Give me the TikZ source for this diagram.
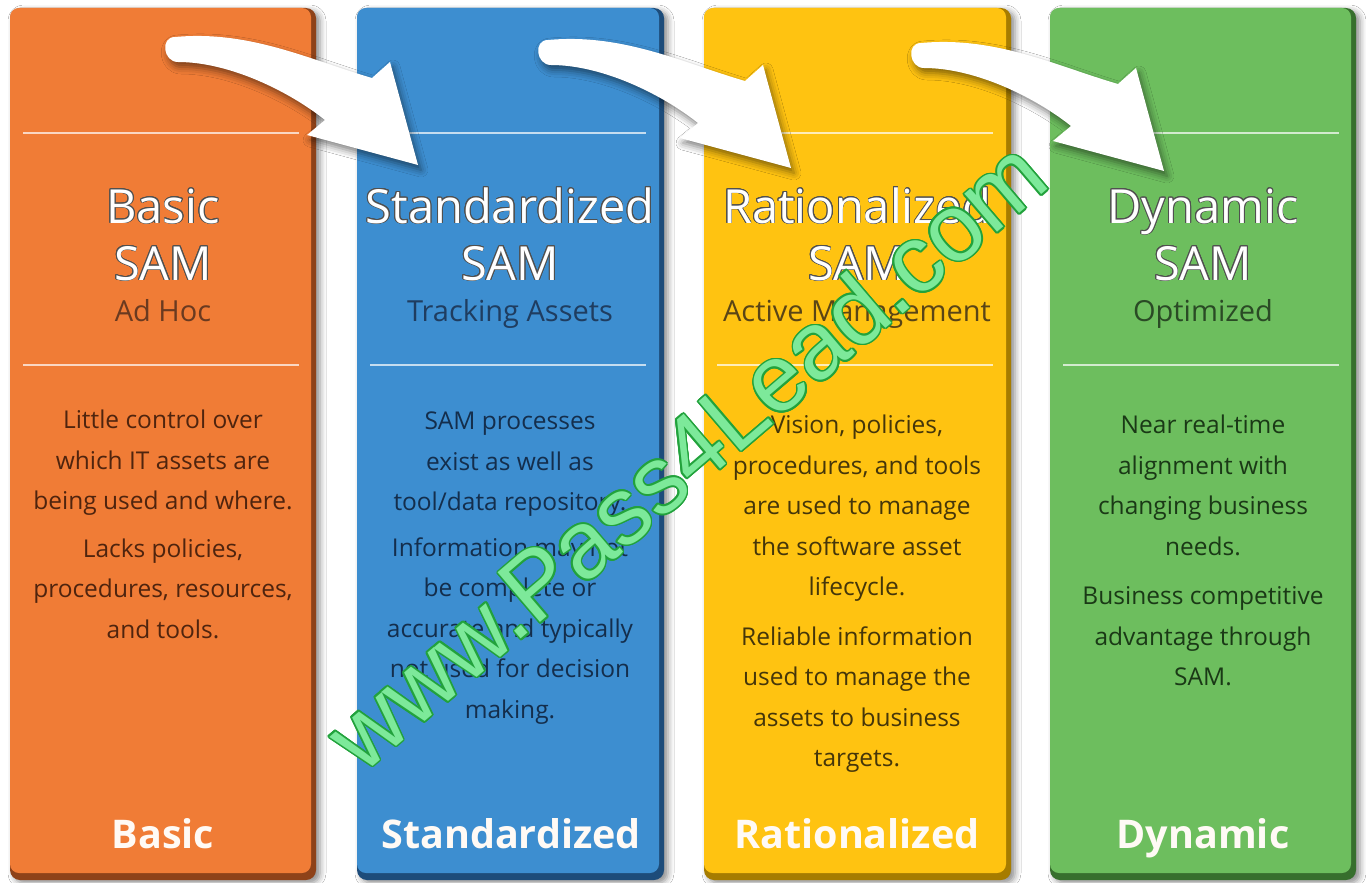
\documentclass[tikz,border=0pt]{standalone}
\usepackage{fontspec}
\setmainfont{Open Sans}
\newfontfamily\wmfont{Liberation Sans}
\usepackage[copies]{contour}
\contourlength{0.9pt}
\usetikzlibrary{shadows.blur}
\definecolor{corange}{HTML}{F07C36}
\definecolor{corangeD}{HTML}{8E4219}
\definecolor{cblue}{HTML}{3D8ED0}
\definecolor{cblueD}{HTML}{1D4C7A}
\definecolor{cyellow}{HTML}{FFC311}
\definecolor{cyellowD}{HTML}{A67C00}
\definecolor{cgreen}{HTML}{6DBE5E}
\definecolor{cgreenD}{HTML}{376F2D}
\definecolor{torange}{HTML}{4F240E}
\definecolor{tblue}{HTML}{142E4C}
\definecolor{tyellow}{HTML}{45360A}
\definecolor{tgreen}{HTML}{1A3916}
\definecolor{sorange}{HTML}{6A3A20}
\definecolor{sblue}{HTML}{1F3D60}
\definecolor{syellow}{HTML}{5A4516}
\definecolor{sgreen}{HTML}{2A4A25}
\definecolor{wmfill}{HTML}{7DE99A}
\definecolor{wmline}{HTML}{22A23C}
\definecolor{titleline}{HTML}{505050}
\newcommand\outlined[1]{\contour{titleline}{#1}}
\tikzset{
  colouter/.style={rounded corners=10pt, draw=none,
    blur shadow={shadow xshift=4pt, shadow yshift=-3pt, shadow blur radius=6pt, shadow opacity=45}},
  colinner/.style={rounded corners=9pt, draw=none},
  divider/.style={draw=white, opacity=0.7, line width=1.6pt},
  titletext/.style={anchor=base, text=white, font=\fontsize{47}{56}\selectfont, inner sep=0pt},
  subtext/.style={anchor=base, font=\fontsize{29}{34}\selectfont, inner sep=0pt},
  bodytext/.style={anchor=north, align=center, font=\fontsize{24.5}{40.5}\selectfont, inner sep=0pt},
  bottomtext/.style={anchor=base, text=white!96!orange, font=\fontsize{39.5}{44}\selectfont\bfseries, inner sep=0pt},
  bigarrowstyle/.style={fill=white, draw=none,
    blur shadow={shadow xshift=3pt, shadow yshift=-5pt, shadow blur radius=7pt, shadow opacity=50}}
}
\newcommand\curvedarrow[2]{%
  \begin{scope}[xshift=#1, yshift=#2]
    \path[bigarrowstyle] (175,37) .. controls (250,30) and (310,60) .. (372,78)
      -- (390,62) -- (418,165) -- (307,135) -- (325,120)
      .. controls (290,92) and (230,62) .. (178,62)
      .. controls (163,62) and (160,37) .. (175,37) -- cycle;
  \end{scope}}
\begin{document}
\begin{tikzpicture}[x=1pt, y=-1pt]
\useasboundingbox (0,0) rectangle (1366,883);
\fill[white] (0,0) rectangle (1366,883);

% columns
\path[colouter, fill=corangeD] (10,8) rectangle (316,880);
\path[colinner, fill=corange] (10,8) rectangle (311,873);
\path[colouter, fill=cblueD] (357,8) rectangle (664,880);
\path[colinner, fill=cblue] (357,8) rectangle (659,873);
\path[colouter, fill=cyellowD] (704,8) rectangle (1011,880);
\path[colinner, fill=cyellow] (704,8) rectangle (1006,873);
\path[colouter, fill=cgreenD] (1050,8) rectangle (1356,880);
\path[colinner, fill=cgreen] (1050,8) rectangle (1351,873);

% divider lines
\foreach \xa in {10,357,704,1050}{
  \draw[divider] (\xa+13,133) -- (\xa+289,133);
  \draw[divider] (\xa+13,365) -- (\xa+289,365);
}

% titles
\node[titletext] (t1a) at (163,223) {\outlined{Basic}};
\node[titletext] (t1b) at (163,280) {\outlined{SAM}};
\node[subtext, text=sorange] (s1) at (163,321) {Ad Hoc};
\node[titletext] (t2a) at (510,223) {\outlined{Standardized}};
\node[titletext] (t2b) at (510,280) {\outlined{SAM}};
\node[subtext, text=sblue] (s2) at (510,321) {Tracking Assets};
\node[titletext] (t3a) at (857,223) {\outlined{Rationalized}};
\node[titletext] (t3b) at (857,280) {\outlined{SAM}};
\node[subtext, text=syellow] (s3) at (857,321) {Active Management};
\node[titletext] (t4a) at (1203,223) {\outlined{Dynamic}};
\node[titletext] (t4b) at (1203,280) {\outlined{SAM}};
\node[subtext, text=sgreen] (s4) at (1203,321) {Optimized};

% body texts
\node[bodytext, text=torange] (b1) at (163,410) {Little control over\\which IT assets are\\being used and where.\\[7pt]Lacks policies,\\procedures, resources,\\and tools.};
\node[bodytext, text=tblue] (b2) at (510,412) {SAM processes\\exist as well as\\tool/data repository.\\[5pt]Information may not\\be complete or\\accurate and typically\\not used for decision\\making.};
\node[bodytext, text=tyellow] (b3) at (857,415) {Vision, policies,\\procedures, and tools\\are used to manage\\the software asset\\lifecycle.\\[9pt]Reliable information\\used to manage the\\assets to business\\targets.};
\node[bodytext, text=tgreen] (b4) at (1203,415) {Near real-time\\alignment with\\changing business\\needs.\\[9pt]Business competitive\\advantage through\\SAM.};

% bottom labels
\node[bottomtext] (l1) at (163,848) {Basic};
\node[bottomtext] (l2) at (511,848) {Standardized};
\node[bottomtext] (l3) at (857,848) {Rationalized};
\node[bottomtext] (l4) at (1203,848) {Dynamic};

% arrows
\curvedarrow{0pt}{0pt}
\curvedarrow{373pt}{-3pt}
\curvedarrow{746pt}{-6pt}

% watermark
\node[rotate=40.5, inner sep=0pt, font=\wmfont\fontsize{95}{100}\selectfont] (wm) at (686,455)
  {\contourlength{1.6pt}\contour{wmline}{\textcolor{wmfill}{www.Pass4Lead.com}}};
\end{tikzpicture}
\end{document}
